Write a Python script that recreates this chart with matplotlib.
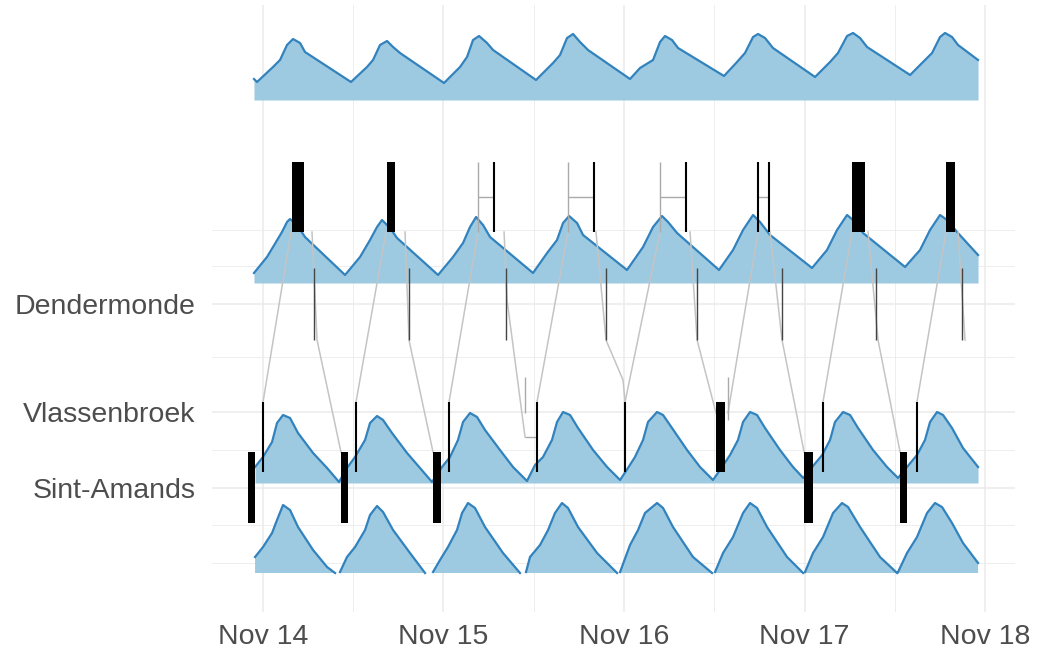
import numpy as np
import matplotlib
matplotlib.use("Agg")
import matplotlib.pyplot as plt
import matplotlib.dates as mdates
from datetime import datetime, timedelta

# ---------------------------------------------------------------------------
# Data: times are hours after Nov 14 00:00, levels in metres above the
# ribbon baseline, positions on the vertical axis in plot units.
# ---------------------------------------------------------------------------
START = datetime(2019, 11, 14)

stations = ["Dendermonde", "Vlassenbroek", "Sint-Amands"]
station_pos = [30.8, 20.0, 12.4]
minor_pos = [38.2, 34.6, 25.5, 16.2, 8.7, 4.9]
day_ticks = ["Nov 14", "Nov 15", "Nov 16", "Nov 17", "Nov 18"]

# tide curve A (top)
tide_a_base = 51.2
tide_a_t = [-1.16, -0.76, 1.37, 2.30, 3.23, 4.03, 4.96, 5.62,
            11.73, 13.86, 14.66, 15.59, 16.52, 17.32, 18.25,
            24.09, 26.22, 27.15, 27.95, 28.75, 29.81, 30.61,
            36.32, 38.58, 39.51, 40.44, 41.24, 42.17, 43.23,
            48.81, 50.14, 51.87, 52.80, 53.46, 54.39, 55.19,
            61.30, 63.03, 64.09, 65.16, 65.82, 66.75, 67.81,
            73.40, 75.39, 76.45, 77.65, 78.45, 79.38, 80.31,
            86.03, 87.75, 88.95, 90.01, 90.67, 91.60, 92.40, 95.06]
tide_a_h = [2.1, 1.8, 3.3, 4.0, 5.5, 6.1, 5.7, 4.8,
            1.8, 3.3, 4.0, 5.5, 5.9, 5.3, 4.7,
            1.7, 3.3, 4.3, 6.0, 6.4, 5.7, 5.0,
            2.0, 3.7, 4.5, 6.2, 6.6, 5.8, 5.0,
            2.1, 3.2, 4.0, 5.8, 6.4, 6.0, 5.2,
            2.4, 3.8, 4.7, 6.3, 6.6, 6.2, 5.2,
            2.3, 3.8, 4.7, 6.4, 6.7, 6.2, 5.3,
            2.5, 3.8, 4.7, 6.3, 6.7, 6.3, 5.5, 4.0]

# tide curve B
tide_b_base = 32.9
tide_b_t = [-1.16, 0.57, 1.37, 2.56, 3.23, 3.63, 4.56, 5.62,
            10.94, 12.93, 14.26, 15.19, 15.85, 16.92, 17.85,
            23.30, 25.29, 26.62, 27.55, 28.35, 29.28, 30.21,
            35.92, 37.79, 39.11, 39.91, 40.71, 41.77, 42.57,
            48.41, 50.54, 51.87, 53.06, 53.86, 55.06,
            60.64, 62.50, 63.83, 65.16, 66.09, 67.42,
            73.00, 74.99, 76.32, 77.65, 78.45, 79.78,
            85.36, 87.35, 88.68, 90.01, 90.94, 92.27, 95.06]
tide_b_h = [1.0, 2.6, 3.6, 5.1, 6.1, 6.4, 5.8, 4.6,
            0.8, 2.6, 4.3, 5.6, 6.3, 5.5, 4.5,
            0.8, 2.6, 4.0, 5.6, 6.6, 5.8, 4.6,
            1.0, 3.0, 4.3, 6.0, 6.7, 6.0, 4.8,
            1.3, 3.6, 5.6, 6.7, 6.1, 5.0,
            1.3, 3.3, 5.3, 6.8, 6.1, 4.8,
            1.5, 3.3, 5.3, 6.8, 6.3, 5.0,
            1.6, 3.3, 5.3, 6.8, 6.3, 5.1, 2.8]

# tide curve C
tide_c_base = 12.9
tide_c_t = [-1.02, 0.04, 1.24, 1.90, 2.70, 3.63, 4.69, 6.69, 8.55, 10.14,
            11.20, 12.27, 13.60, 14.26, 15.19, 15.99, 17.18, 19.18, 20.90, 22.50,
            23.83, 24.89, 25.95, 26.62, 27.55, 28.48, 29.54, 31.53, 33.26, 35.12,
            36.19, 37.25, 38.44, 39.11, 39.91, 40.84, 41.90, 43.90, 45.76, 47.49,
            48.54, 49.47, 50.54, 51.20, 52.40, 53.20, 54.39, 56.39, 58.11, 59.84,
            61.04, 62.10, 63.16, 63.83, 64.76, 65.69, 66.75, 68.74, 70.47, 71.83,
            73.02, 74.35, 75.39, 76.05, 77.12, 78.05, 79.11, 81.10, 82.96, 84.43,
            85.62, 86.95, 88.01, 88.68, 89.61, 90.41, 91.60, 93.06, 95.06]
tide_c_h = [1.6, 2.6, 4.1, 6.0, 6.8, 6.5, 5.0, 3.0, 1.5, 0.1,
            1.5, 2.6, 4.3, 6.0, 6.7, 6.3, 5.0, 3.0, 1.5, 0.1,
            1.6, 2.6, 4.3, 6.1, 7.0, 6.6, 5.3, 3.3, 1.6, 0.2,
            1.8, 2.6, 4.3, 6.1, 7.1, 6.8, 5.5, 3.3, 1.6, 0.3,
            1.5, 2.6, 4.3, 6.1, 7.1, 6.8, 5.5, 3.3, 1.6, 0.3,
            1.6, 2.8, 4.3, 6.1, 7.1, 6.8, 5.5, 3.3, 1.6, 0.5,
            1.6, 2.8, 4.3, 6.1, 7.1, 6.8, 5.5, 3.3, 1.6, 0.5,
            1.6, 2.8, 4.3, 6.1, 7.1, 6.8, 5.5, 3.5, 1.6]

# tide curve D (gaps between tides)
nan = float("nan")
tide_d_base = 3.9
tide_d_t = [-1.02, 0.04, 1.24, 1.90, 2.70, 3.63, 4.69, 6.69, 8.55, 9.61, 9.9,
            10.27, 11.20, 12.27, 13.60, 14.26, 15.19, 15.99, 17.32, 19.57, 21.57, 22.1,
            22.63, 23.56, 24.62, 25.82, 26.49, 27.28, 28.21, 29.54, 31.93, 34.19, 34.6,
            34.99, 35.52, 36.85, 37.92, 38.84, 39.77, 40.57, 41.90, 44.43, 47.09, 47.3,
            47.49, 48.81, 49.88, 50.80, 52.40, 53.20, 54.52, 57.18, 59.71, 59.9,
            60.11, 61.17, 62.50, 63.83, 64.76, 65.69, 67.02, 69.68, 71.81, 71.9,
            72.07, 73.13, 74.46, 75.79, 76.98, 77.78, 79.38, 82.03, 84.30, 84.4,
            84.43, 85.62, 86.95, 88.28, 89.34, 90.27, 91.60, 93.06, 95.06]
tide_d_h = [1.6, 2.6, 4.0, 5.3, 6.8, 6.3, 4.6, 2.3, 0.6, 0.0, nan,
            0.1, 1.6, 2.6, 4.3, 5.8, 6.7, 6.1, 4.3, 2.0, 0.0, nan,
            0.1, 1.3, 2.6, 4.3, 6.0, 7.0, 6.5, 4.6, 2.0, 0.0, nan,
            0.1, 1.6, 2.8, 4.3, 6.0, 7.0, 6.5, 4.6, 2.0, 0.0, nan,
            0.1, 2.8, 4.3, 6.0, 7.0, 6.5, 4.6, 1.6, 0.0, nan,
            0.1, 2.0, 3.6, 6.0, 7.0, 6.5, 4.6, 1.6, 0.0, nan,
            0.1, 2.0, 3.6, 6.0, 7.0, 6.6, 4.6, 1.6, 0.0, nan,
            0.1, 2.0, 3.6, 6.0, 7.0, 6.6, 5.0, 3.0, 1.0]

# long stays near the upper station (start, end hours; bottom, top)
stay_top_start = [3.89, 16.52, 78.33, 90.82]
stay_top_end = [5.53, 17.58, 80.06, 92.02]
stay_top_range = (38.0, 45.0)
# short calls near the upper station
call_top_dark = [30.74, 44.03, 56.26, 65.82, 67.28]
call_top_grey = [28.61, 40.57, 52.80]
call_top_link = [(28.61, 30.74), (40.57, 44.03), (52.80, 56.26), (65.82, 67.28)]
call_top_link_pos = 41.5

# passages at Dendermonde
call_dm = [6.82, 19.44, 32.30, 45.62, 57.72, 69.01, 81.51, 92.99]
call_dm_range = (27.2, 34.4)

# stays at Sint-Amands
stay_sa_start = [-1.95, 10.40, 22.63, 71.94, 84.70]
stay_sa_end = [-1.02, 11.33, 23.69, 73.13, 85.62]
stay_sa_range = (8.9, 16.0)
# stays and calls at Vlassenbroek
stay_vl_start = [60.24]
stay_vl_end = [61.44]
stay_vl_range = (14.0, 21.0)
call_vl = [0.04, 12.40, 24.76, 36.45, 48.15, 74.45, 86.94]
call_vl_grey = [(34.86, 19.9, 23.5), (61.83, 19.2, 23.5)]
call_vl_link = [(34.86, 36.45)]
call_vl_link_pos = 17.5

# trips between the stations: (hours, positions)
trips = [
    ([0.04, 3.76], [21.0, 38.0]),
    ([6.55, 7.22, 10.40], [38.0, 27.2, 16.0]),
    ([12.40, 16.39], [21.0, 38.0]),
    ([18.91, 19.44, 22.63], [38.0, 27.2, 16.0]),
    ([24.76, 28.61], [21.0, 38.0]),
    ([32.07, 32.47, 34.86], [38.0, 31.2, 17.5]),
    ([36.45, 40.57], [21.0, 38.0]),
    ([44.29, 45.62, 47.88, 48.15], [38.0, 27.2, 23.2, 21.0]),
    ([48.15, 52.80], [21.0, 38.0]),
    ([56.79, 57.72, 60.24], [38.0, 27.2, 19.9]),
    ([61.83, 65.82], [19.9, 38.0]),
    ([67.42, 69.01, 71.94], [38.0, 27.2, 16.0]),
    ([74.45, 78.31], [21.0, 38.0]),
    ([80.44, 81.77, 84.70], [38.0, 27.2, 16.0]),
    ([86.94, 90.80], [21.0, 38.0]),
    ([92.40, 93.33], [38.0, 27.2]),
]


def at(h):
    return START + timedelta(hours=float(h))


def to_dates(hours):
    return [at(h) for h in hours]


fig = plt.figure(figsize=(10.37, 6.51), dpi=100)
ax = fig.add_axes([212 / 1037, 39 / 651, 803 / 1037, 607 / 651])

grid_col = "#ebebeb"
for d in range(5):
    ax.axvline(START + timedelta(days=d), color=grid_col, lw=1.1, zorder=0)
for d in range(4):
    ax.axvline(START + timedelta(days=d, hours=12), color=grid_col, lw=0.6, zorder=0)
for p in station_pos:
    ax.axhline(p, color=grid_col, lw=1.1, zorder=0)
for p in minor_pos:
    ax.axhline(p, color=grid_col, lw=0.6, zorder=0)

fill_col = "#9ecae1"
line_col = "#3182bd"
for t, h, base in [(tide_a_t, tide_a_h, tide_a_base),
                   (tide_b_t, tide_b_h, tide_b_base),
                   (tide_c_t, tide_c_h, tide_c_base),
                   (tide_d_t, tide_d_h, tide_d_base)]:
    x = to_dates(t)
    y = base + np.array(h, dtype=float)
    ax.fill_between(x, base, y, color=fill_col, lw=0, zorder=2)
    ax.plot(x, y, color=line_col, lw=1.6, zorder=3, solid_joinstyle="round")

trip_col = "#c4c4c4"
for t, p in trips:
    ax.plot(to_dates(t), p, color=trip_col, lw=1.1, zorder=4)


def bars(starts, ends, rng):
    for s, e in zip(starts, ends):
        x0 = mdates.date2num(at(s))
        x1 = mdates.date2num(at(e))
        ax.fill_between([x0, x1], rng[0], rng[1], color="black", lw=0, zorder=6)


bars(stay_top_start, stay_top_end, stay_top_range)
bars(stay_sa_start, stay_sa_end, stay_sa_range)
bars(stay_vl_start, stay_vl_end, stay_vl_range)
for h in call_top_dark:
    ax.vlines(at(h), *stay_top_range, color="black", lw=1.5, zorder=6)
for h in call_top_grey:
    ax.vlines(at(h), *stay_top_range, color="#aaaaaa", lw=1.0, zorder=5)
for a, b in call_top_link:
    ax.hlines(call_top_link_pos, at(a), at(b), color="#aaaaaa", lw=1.0, zorder=5)
for h in call_dm:
    ax.vlines(at(h), *call_dm_range, color="#444444", lw=1.0, zorder=5)
for h in call_vl:
    ax.vlines(at(h), *stay_vl_range, color="black", lw=1.5, zorder=6)
for h, lo, hi in call_vl_grey:
    ax.vlines(at(h), lo, hi, color="#aaaaaa", lw=1.0, zorder=5)
for a, b in call_vl_link:
    ax.hlines(call_vl_link_pos, at(a), at(b), color="#aaaaaa", lw=1.0, zorder=5)

ax.set_xlim(at(-6.74), at(99.97))
ax.set_ylim(0, 60.7)
ax.set_xticks([START + timedelta(days=d) for d in range(5)])
ax.set_xticklabels(day_ticks)
ax.set_yticks(station_pos)
ax.set_yticklabels(stations)
ax.tick_params(length=0, labelsize=20.5, labelcolor="#4d4d4d")
ax.tick_params(axis="y", pad=12)
ax.tick_params(axis="x", pad=9)
for lab in ax.get_xticklabels() + ax.get_yticklabels():
    lab.set_family("Liberation Sans")
for s in ax.spines.values():
    s.set_visible(False)

fig.savefig("out.png", dpi=100)
